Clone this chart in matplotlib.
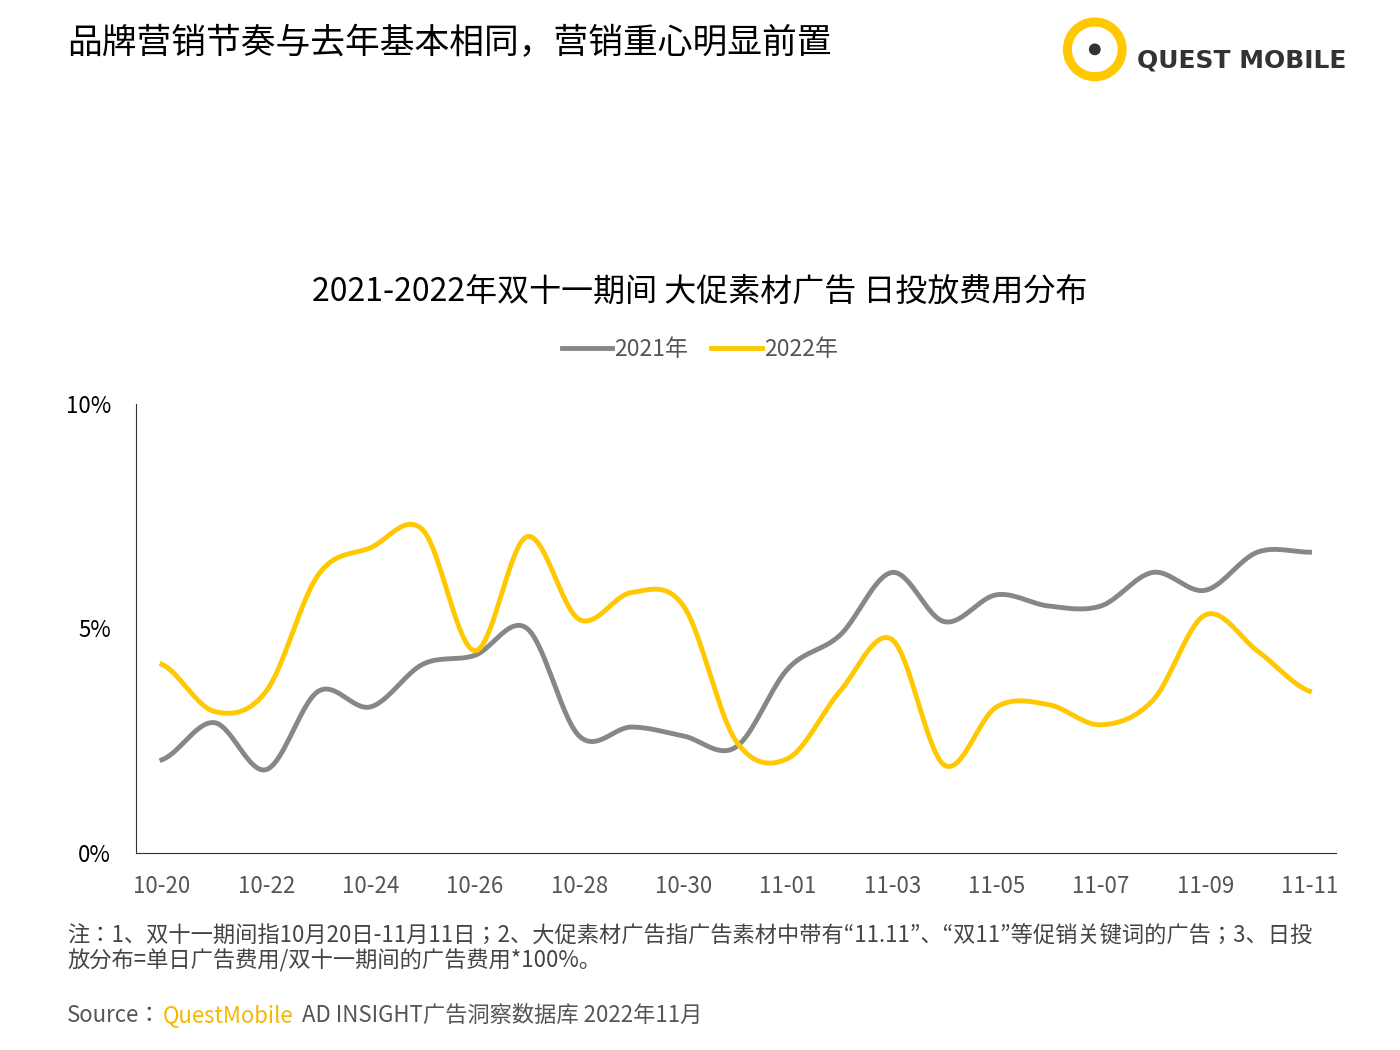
import numpy as np
import matplotlib
matplotlib.use("Agg")
import matplotlib.pyplot as plt
from matplotlib import font_manager
from matplotlib.patches import Circle, Wedge

names = {f.name for f in font_manager.fontManager.ttflist}
cands = [n for n in ["Noto Sans CJK SC", "Noto Sans CJK JP", "Noto Sans CJK TC", "Noto Sans CJK KR", "Noto Sans SC"] if n in names]
plt.rcParams['font.family'] = 'sans-serif'
plt.rcParams['font.sans-serif'] = cands + ['DejaVu Sans']

dates = ["10-20","10-21","10-22","10-23","10-24","10-25","10-26","10-27","10-28","10-29","10-30","10-31",
         "11-01","11-02","11-03","11-04","11-05","11-06","11-07","11-08","11-09","11-10","11-11"]
s2021 = [2.07,2.9,1.85,3.6,3.25,4.2,4.4,5.0,2.6,2.8,2.6,2.35,4.1,4.85,6.25,5.15,5.75,5.5,5.5,6.25,5.85,6.7,6.7]
s2022 = [4.2,3.15,3.6,6.2,6.8,7.2,4.5,7.05,5.2,5.8,5.5,2.5,2.1,3.6,4.75,1.95,3.25,3.3,2.85,3.4,5.3,4.5,3.6]

def smooth(y, n=20):
    y = np.asarray(y, float)
    p = np.concatenate([[y[0]], y, [y[-1]]])
    xs, ys = [], []
    for i in range(len(y) - 1):
        p0, p1, p2, p3 = p[i], p[i+1], p[i+2], p[i+3]
        t = np.linspace(0, 1, n, endpoint=False)
        v = 0.5*((2*p1) + (-p0+p2)*t + (2*p0-5*p1+4*p2-p3)*t**2 + (-p0+3*p1-3*p2+p3)*t**3)
        xs.append(i + t); ys.append(v)
    xs.append([len(y)-1]); ys.append([y[-1]])
    return np.concatenate(xs), np.concatenate(ys)

fig = plt.figure(figsize=(14, 10.5), dpi=100)
ax = fig.add_axes([0.097, 0.188, 0.857, 0.427])
x1, y1 = smooth(s2021)
x2, y2 = smooth(s2022)
ax.plot(x1, y1, color="#878787", lw=3.5, label="2021年")
ax.plot(x2, y2, color="#FFC800", lw=3.5, label="2022年")
ax.set_xlim(-0.5, 22.5)
ax.set_ylim(0, 10)
ax.set_yticks([0, 5, 10])
ax.set_yticklabels(["0%", "5%", "10%"], fontsize=16)
ax.set_xticks(range(0, 23, 2))
ax.set_xticklabels(dates[::2], fontsize=16, color="#555555")
ax.tick_params(axis="x", length=0, pad=16)
ax.tick_params(axis="y", length=0, pad=18)
for s in ["top", "right"]:
    ax.spines[s].set_visible(False)
ax.spines["left"].set_color("#333333")
ax.spines["bottom"].set_color("#333333")
ax.legend(loc="lower center", bbox_to_anchor=(0.47, 1.05), ncol=2, frameon=False,
          fontsize=16.5, handlelength=2.2, columnspacing=1.0, handletextpad=0.1, labelcolor="#555555")

fig.text(0.048, 0.958, "品牌营销节奏与去年基本相同，营销重心明显前置", fontsize=25, va="center")
fig.text(0.5, 0.722, "2021-2022年双十一期间 大促素材广告 日投放费用分布", fontsize=23, ha="center", va="center")
fig.text(0.048, 0.097, "注：1、双十一期间指10月20日-11月11日；2、大促素材广告指广告素材中带有“11.11”、“双11”等促销关键词的广告；3、日投\n放分布=单日广告费用/双十一期间的广告费用*100%。",
         fontsize=16, va="center", color="#444444", linespacing=1.15)
fig.text(0.048, 0.033, "Source：", fontsize=16, va="center", color="#555555")
fig.text(0.116, 0.033, "QuestMobile", fontsize=16, va="center", color="#F5B800")
fig.text(0.216, 0.033, "AD INSIGHT广告洞察数据库 2022年11月", fontsize=16, va="center", color="#555555")

# logo
lax = fig.add_axes([0.757, 0.92, 0.05, 0.066])
lax.set_xlim(-1, 1); lax.set_ylim(-1, 1); lax.set_aspect("equal"); lax.axis("off")
lax.add_patch(Wedge((0, 0), 0.9, 0, 360, width=0.22, color="#FFC800"))
lax.add_patch(Circle((0, 0), 0.15, color="#333333"))
fig.text(0.812, 0.942, "QUEST MOBILE", fontsize=18, fontweight="bold", color="#333333", va="center",
         family="DejaVu Sans")

fig.savefig("out.png", dpi=100)
